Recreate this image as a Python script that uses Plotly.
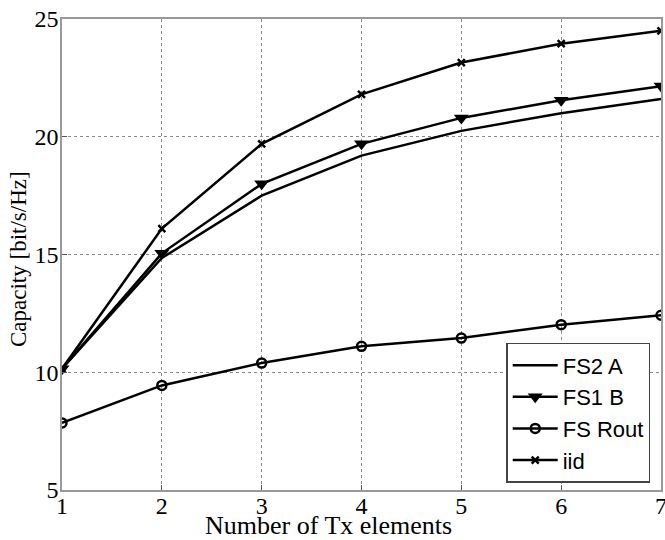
import plotly.graph_objects as go

tx = [1, 2, 3, 4, 5, 6, 7]
fs2_a = [10.15, 14.85, 17.5, 19.2, 20.25, 21.0, 21.6]
fs1_b = [10.15, 15.05, 18.0, 19.7, 20.8, 21.55, 22.15]
fs_rout = [7.85, 9.44, 10.39, 11.1, 11.45, 12.02, 12.42]
iid = [10.15, 16.1, 19.7, 21.8, 23.15, 23.95, 24.5]

x_ticks = [1, 2, 3, 4, 5, 6, 7]
y_ticks = [5, 10, 15, 20, 25]

serif = "Liberation Serif, Times New Roman, serif"
sans = "Liberation Sans, Arial, sans-serif"

fig = go.Figure()
fig.add_trace(go.Scatter(x=tx, y=fs2_a, name="FS2 A", mode="lines",
                         line=dict(color="black", width=2.5)))
fig.add_trace(go.Scatter(x=tx, y=fs1_b, name="FS1 B", mode="lines+markers",
                         line=dict(color="black", width=2.5),
                         marker=dict(symbol="triangle-down", size=13, color="black")))
fig.add_trace(go.Scatter(x=tx, y=fs_rout, name="FS Rout", mode="lines+markers",
                         line=dict(color="black", width=2.5),
                         marker=dict(symbol="circle-open", size=9, color="black",
                                     line=dict(width=2.5, color="black"))))
fig.add_trace(go.Scatter(x=tx, y=iid, name="iid", mode="lines+markers",
                         line=dict(color="black", width=2.5),
                         marker=dict(symbol="x-thin-open", size=7, color="black",
                                     line=dict(width=2.5, color="black"))))

axis_common = dict(
    showgrid=True, gridcolor="#8a8a8a", griddash="dot", gridwidth=1,
    showline=True, linecolor="#999999", linewidth=1.5, mirror=True,
    ticks="inside", ticklen=5, tickcolor="#555555",
    tickfont=dict(family=serif, size=24, color="black"),
    zeroline=False, automargin=False, ticklabeloverflow="allow",
)

fig.update_layout(
    width=665, height=540,
    margin=dict(l=62, r=4, t=19, b=50),
    paper_bgcolor="white", plot_bgcolor="white",
    xaxis=dict(range=[1, 7], tickvals=x_ticks, ticktext=[str(v) for v in x_ticks],
               ticklabelstandoff=-7, **axis_common),
    yaxis=dict(range=[5, 25], tickvals=y_ticks, ticktext=[str(v) for v in y_ticks],
               ticklabelstandoff=-3, **axis_common),
    legend=dict(x=0.982, y=0.015, xanchor="right", yanchor="bottom",
                bgcolor="white", bordercolor="#444444", borderwidth=1.5,
                font=dict(family=sans, size=22, color="black"),
                tracegroupgap=0, itemwidth=45),
    showlegend=True,
    annotations=[
        dict(text="Number of Tx elements", xref="paper", yref="paper",
             x=(328 - 62) / 599, y=(490 - 525) / 471, xanchor="center", yanchor="middle",
             showarrow=False, font=dict(family=serif, size=26, color="black")),
        dict(text="Capacity [bit/s/Hz]", xref="paper", yref="paper",
             x=(18 - 62) / 599, y=(490 - 259) / 471, xanchor="center", yanchor="middle",
             textangle=-90, showarrow=False, font=dict(family=serif, size=23, color="black")),
    ],
)

fig.write_html("out.html", config={"displayModeBar": False},
               post_script="document.body.style.margin='0';document.body.style.overflow='hidden';")
